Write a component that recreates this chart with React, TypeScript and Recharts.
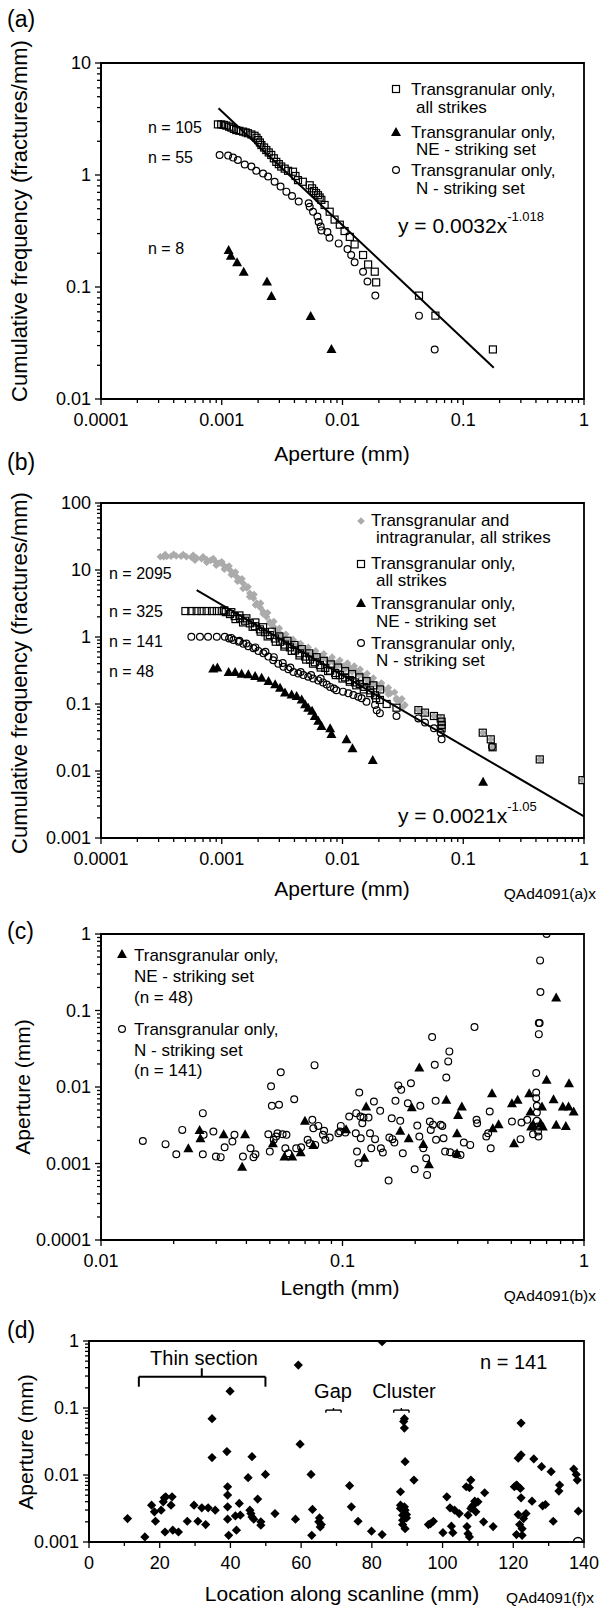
import React from 'react';
import { ScatterChart, Scatter, XAxis, YAxis, ReferenceArea, ReferenceLine } from 'recharts';

const FONT = '"Liberation Sans", Arial, Helvetica, sans-serif';

// ---------- panel (a) ----------
const aAll = [
  [0.00093, 2.83], [0.00099, 2.83], [0.00104, 2.8], [0.00109, 2.76], [0.00115, 2.7], [0.0012, 2.65],
  [0.00126, 2.58], [0.00132, 2.52], [0.0014, 2.48], [0.0015, 2.44], [0.00158, 2.4], [0.00165, 2.36],
  [0.00176, 2.3], [0.00187, 2.24], [0.00194, 2.15], [0.002, 2.05], [0.00207, 1.95], [0.00213, 1.85],
  [0.00224, 1.76], [0.00234, 1.67], [0.00245, 1.59], [0.00257, 1.51], [0.0027, 1.41], [0.00283, 1.31],
  [0.00297, 1.25], [0.00311, 1.19], [0.00332, 1.14], [0.00354, 1.09], [0.00389, 1.07], [0.00408, 0.98],
  [0.00428, 0.9], [0.0047, 0.87], [0.00535, 0.81], [0.0056, 0.76], [0.0058, 0.72], [0.00604, 0.69],
  [0.00627, 0.66], [0.00647, 0.63], [0.00668, 0.6], [0.00711, 0.54], [0.00783, 0.47], [0.0086, 0.4],
  [0.0095, 0.36], [0.0104, 0.316], [0.0115, 0.28], [0.0126, 0.24], [0.0148, 0.193], [0.0163, 0.159],
  [0.0185, 0.137], [0.019, 0.11], [0.043, 0.0838], [0.0588, 0.0555], [0.176, 0.0277],
];
const aNE = [
  [0.00114, 0.214], [0.00119, 0.19], [0.00134, 0.166], [0.00152, 0.137],
  [0.00237, 0.112], [0.00258, 0.083], [0.00545, 0.055], [0.0081, 0.0279],
];
const aN = [
  [0.00096, 1.51], [0.00113, 1.49], [0.00124, 1.43], [0.00136, 1.36], [0.00155, 1.24], [0.00176, 1.19],
  [0.00193, 1.09], [0.0022, 1.03], [0.00242, 0.97], [0.00274, 0.87], [0.00307, 0.79], [0.00343, 0.71],
  [0.00382, 0.65], [0.00434, 0.58], [0.00525, 0.56], [0.00535, 0.52], [0.0057, 0.47], [0.0062, 0.425],
  [0.00635, 0.38], [0.0066, 0.346], [0.0067, 0.32], [0.0075, 0.31], [0.0078, 0.275], [0.0093, 0.245],
  [0.011, 0.218], [0.0118, 0.193], [0.0126, 0.166], [0.0148, 0.137], [0.0161, 0.112], [0.0187, 0.0838],
  [0.043, 0.0555], [0.058, 0.0277],
];
const aFit = [[0.00094, 3.94], [0.179, 0.019]];

// ---------- panel (b) ----------
const bAllGray = [
  [0.00031, 15.8], [0.00033, 15.8], [0.00035, 15.9], [0.00038, 16.0], [0.00042, 16.2], [0.00046, 16.0],
  [0.00051, 15.8], [0.00056, 15.5], [0.00062, 15.1], [0.00068, 14.7], [0.00075, 14.3], [0.00081, 13.9],
  [0.00088, 13.5], [0.00095, 12.7], [0.00103, 11.9], [0.0011, 11.0], [0.00117, 10.0], [0.00125, 8.9],
  [0.00133, 7.9], [0.00142, 7.0], [0.00151, 6.3], [0.00161, 5.4], [0.00171, 4.5], [0.00183, 3.8],
  [0.00195, 3.2], [0.00208, 2.75], [0.00221, 2.39], [0.00235, 2.0], [0.0025, 1.69], [0.00267, 1.45],
  [0.00285, 1.27], [0.00304, 1.12], [0.00324, 1.01], [0.00345, 0.92], [0.00367, 0.85], [0.00392, 0.78],
  [0.00417, 0.72], [0.00445, 0.68], [0.00474, 0.64], [0.00505, 0.6], [0.00538, 0.57], [0.0057, 0.54],
  [0.0061, 0.51], [0.0065, 0.495], [0.0069, 0.48], [0.0074, 0.46], [0.0079, 0.44], [0.0084, 0.42],
  [0.0089, 0.4], [0.0095, 0.385], [0.0102, 0.37], [0.0108, 0.36], [0.0115, 0.35], [0.0123, 0.33],
  [0.0131, 0.31], [0.014, 0.285], [0.015, 0.26], [0.016, 0.24], [0.017, 0.22], [0.018, 0.203],
  [0.0195, 0.19], [0.021, 0.175], [0.0232, 0.162], [0.025, 0.145], [0.028, 0.122], [0.03, 0.11],
  [0.0329, 0.097],
  // upper edge of the grey band
  [0.00034, 17.0], [0.0004, 17.2], [0.00048, 17.0], [0.00058, 16.6], [0.0007, 15.8], [0.00085, 14.8],
  [0.001, 13.3], [0.00115, 11.5], [0.0013, 9.3], [0.00147, 7.4], [0.00165, 5.6], [0.00185, 4.3],
  [0.0021, 3.2], [0.0024, 2.3], [0.0027, 1.7], [0.003, 1.35], [0.0034, 1.1], [0.0039, 0.92],
  [0.0045, 0.8], [0.0052, 0.7], [0.006, 0.62], [0.007, 0.56], [0.0082, 0.5], [0.0095, 0.45],
  [0.011, 0.41], [0.0125, 0.37], [0.014, 0.33], [0.016, 0.285], [0.018, 0.245], [0.021, 0.205],
  [0.024, 0.175], [0.027, 0.15], [0.031, 0.12],
  // lower edge of the grey band
  [0.0006, 14.0], [0.00075, 13.0], [0.0009, 11.8], [0.00105, 10.3], [0.0012, 8.5], [0.00135, 6.8],
  [0.0015, 5.3], [0.0017, 4.0], [0.0019, 3.0], [0.0022, 2.2], [0.0025, 1.6], [0.0029, 1.2],
  [0.0033, 0.95], [0.0038, 0.8], [0.0044, 0.68], [0.005, 0.6], [0.0058, 0.53], [0.0067, 0.47],
  [0.0078, 0.42], [0.009, 0.37], [0.0105, 0.33], [0.012, 0.3], [0.0138, 0.27], [0.0158, 0.235],
  [0.018, 0.2], [0.0205, 0.17], [0.024, 0.14], [0.028, 0.115], [0.032, 0.092],
  // grey points under the large-aperture squares
  [0.0425, 0.081], [0.0482, 0.0743], [0.0572, 0.0662], [0.065, 0.061], [0.0662, 0.0545],
  [0.0662, 0.0486], [0.0662, 0.0434], [0.145, 0.0373], [0.169, 0.0297], [0.175, 0.0226], [0.43, 0.0149],
  [0.97, 0.0073],
];
const bAll = [
  [0.0005, 2.44], [0.00056, 2.44], [0.00062, 2.44], [0.00068, 2.44], [0.00075, 2.44], [0.00083, 2.44],
  [0.00091, 2.44], [0.001, 2.44], [0.00108, 2.35], [0.00117, 2.2], [0.00128, 2.05], [0.00142, 1.9],
  [0.00156, 1.75], [0.00171, 1.6], [0.00188, 1.45], [0.00207, 1.3], [0.00228, 1.18], [0.0025, 1.07],
  [0.00276, 0.95], [0.00304, 0.85], [0.00334, 0.77], [0.00367, 0.7], [0.00404, 0.63], [0.00444, 0.57],
  [0.0049, 0.51], [0.00538, 0.46], [0.0059, 0.42], [0.0065, 0.38], [0.0072, 0.345], [0.0079, 0.315],
  [0.0087, 0.29], [0.0095, 0.27], [0.0105, 0.25], [0.0115, 0.228], [0.0127, 0.21], [0.0139, 0.199],
  [0.0152, 0.18], [0.0169, 0.16], [0.0186, 0.135], [0.0204, 0.115], [0.0232, 0.1], [0.028, 0.088],
  // upper and lower edges of the square band
  [0.00105, 2.5], [0.0012, 2.35], [0.0014, 2.1], [0.0016, 1.9], [0.0019, 1.65], [0.0022, 1.4],
  [0.0026, 1.2], [0.003, 1.02], [0.0035, 0.88], [0.004, 0.76], [0.0046, 0.66], [0.0053, 0.57],
  [0.0061, 0.5], [0.007, 0.44], [0.008, 0.39], [0.0092, 0.35], [0.0105, 0.31], [0.012, 0.28],
  [0.0138, 0.25], [0.0158, 0.22], [0.018, 0.19], [0.0205, 0.165],
  [0.0013, 1.85], [0.0015, 1.65], [0.0018, 1.42], [0.0021, 1.2], [0.0024, 1.02], [0.0028, 0.85],
  [0.0033, 0.72], [0.0038, 0.62], [0.0044, 0.53], [0.005, 0.46], [0.0057, 0.4], [0.0066, 0.35],
  [0.0076, 0.31], [0.0088, 0.27], [0.01, 0.24], [0.0115, 0.215], [0.013, 0.19], [0.015, 0.165],
  [0.017, 0.145], [0.019, 0.122],
  [0.0425, 0.081], [0.0482, 0.0743], [0.0572, 0.0662], [0.065, 0.061], [0.0662, 0.0545], [0.0662, 0.0486],
  [0.0662, 0.0434], [0.145, 0.0373], [0.169, 0.0297], [0.175, 0.0226], [0.43, 0.0149], [0.97, 0.0073],
];
const bNE = [
  [0.00085, 0.34], [0.00092, 0.35], [0.00114, 0.3], [0.00129, 0.3], [0.00146, 0.284], [0.00166, 0.277],
  [0.00189, 0.262], [0.00214, 0.247], [0.00244, 0.22], [0.00277, 0.197], [0.00304, 0.175], [0.00334, 0.148],
  [0.00379, 0.139], [0.00417, 0.132], [0.00459, 0.117], [0.0049, 0.099], [0.0052, 0.088], [0.0056, 0.079],
  [0.0059, 0.066], [0.0063, 0.056], [0.0067, 0.047], [0.0079, 0.0434], [0.0081, 0.0357], [0.0108, 0.0297],
  [0.0121, 0.0218], [0.0178, 0.0146], [0.146, 0.0069],
];
const bN = [
  [0.00056, 1.01], [0.00066, 1.01], [0.00077, 1.01], [0.00091, 1.01], [0.00106, 1.01], [0.00115, 0.95],
  [0.00125, 0.9], [0.00138, 0.85], [0.00151, 0.79], [0.00166, 0.73], [0.00183, 0.68], [0.00201, 0.62],
  [0.00221, 0.57], [0.00243, 0.51], [0.00267, 0.45], [0.00294, 0.4], [0.00324, 0.36], [0.00356, 0.33],
  [0.00392, 0.3], [0.0043, 0.285], [0.00474, 0.27], [0.0052, 0.255], [0.0057, 0.24], [0.0063, 0.225],
  [0.0069, 0.21], [0.0074, 0.195], [0.0079, 0.18], [0.0085, 0.17], [0.0089, 0.16], [0.0101, 0.153],
  [0.0112, 0.145], [0.0123, 0.136], [0.0135, 0.128], [0.0144, 0.122], [0.0158, 0.108], [0.0186, 0.097],
  [0.0192, 0.081], [0.0204, 0.073], [0.028, 0.066], [0.0425, 0.061], [0.0482, 0.053], [0.0572, 0.0434],
  [0.065, 0.0373], [0.0662, 0.0297], [0.173, 0.023],
  [0.0012, 0.97], [0.0014, 0.88], [0.0016, 0.8], [0.0019, 0.7], [0.0023, 0.6], [0.0027, 0.5],
  [0.0032, 0.41], [0.0037, 0.35], [0.0045, 0.3], [0.0055, 0.27], [0.0066, 0.24],
];
const bFit = [[0.00062, 5.0], [1, 0.0021]];

// ---------- panel (c) ----------
const cNE = [
  [0.023, 0.00158], [0.0256, 0.00275], [0.0258, 0.00214], [0.0322, 0.00241], [0.0384, 0.00091],
  [0.0395, 0.00241], [0.0515, 0.00184], [0.0575, 0.00123], [0.0619, 0.00123], [0.0671, 0.0014],
  [0.0699, 0.00361], [0.0757, 0.00175], [0.1035, 0.00281], [0.1231, 0.00119], [0.1253, 0.00556],
  [0.1734, 0.00267], [0.188, 0.00214], [0.1936, 0.00545], [0.208, 0.018], [0.216, 0.0018],
  [0.228, 0.00098], [0.269, 0.00679], [0.298, 0.00249], [0.301, 0.00432], [0.312, 0.00556],
  [0.298, 0.00136], [0.416, 0.0083], [0.419, 0.00289], [0.443, 0.00326], [0.513, 0.00184],
  [0.503, 0.00614], [0.531, 0.00679], [0.593, 0.0083], [0.6, 0.00478], [0.615, 0.00326],
  [0.662, 0.00336], [0.67, 0.00556], [0.7, 0.0124], [0.748, 0.00693], [0.767, 0.148],
  [0.767, 0.0032], [0.817, 0.00556], [0.841, 0.0031], [0.867, 0.0112], [0.863, 0.00556],
  [0.906, 0.00478], [0.604, 0.00304], [0.675, 0.00304],
];
const cN = [
  [0.0149, 0.00197], [0.0185, 0.00179], [0.0205, 0.00132], [0.0217, 0.00275], [0.0264, 0.00455],
  [0.0266, 0.00237], [0.0264, 0.00132], [0.0292, 0.00262], [0.0299, 0.00123], [0.0313, 0.00121],
  [0.0325, 0.00163], [0.035, 0.00194], [0.0357, 0.00237], [0.0387, 0.00123], [0.0416, 0.00158],
  [0.0428, 0.00121], [0.0436, 0.00132], [0.0493, 0.00241], [0.05, 0.00143], [0.0506, 0.0102],
  [0.051, 0.00567], [0.0519, 0.00204], [0.0531, 0.00225], [0.0538, 0.00249], [0.0546, 0.00585],
  [0.0555, 0.0156], [0.0565, 0.00241], [0.058, 0.00158], [0.0586, 0.00237], [0.0597, 0.00136],
  [0.0631, 0.00693], [0.0643, 0.00158], [0.0674, 0.00163], [0.0717, 0.00204], [0.0731, 0.00184],
  [0.075, 0.00372], [0.0757, 0.00289], [0.0766, 0.0193], [0.0771, 0.00175], [0.0794, 0.0031],
  [0.083, 0.00237], [0.0839, 0.00267], [0.0849, 0.00204], [0.0885, 0.00218], [0.0962, 0.00249],
  [0.0977, 0.00262], [0.0984, 0.0031], [0.1028, 0.00254], [0.1066, 0.00411], [0.1135, 0.00249],
  [0.114, 0.00455], [0.1148, 0.00143], [0.1165, 0.00101], [0.1173, 0.00848], [0.1186, 0.00411],
  [0.119, 0.00214], [0.1208, 0.00336], [0.1222, 0.00399], [0.1282, 0.00399], [0.13, 0.00249],
  [0.1315, 0.00158], [0.1349, 0.00646], [0.1364, 0.00208], [0.1432, 0.00488], [0.1442, 0.00158],
  [0.1469, 0.00139], [0.1552, 0.0006], [0.1563, 0.00218], [0.1599, 0.00391], [0.161, 0.00208],
  [0.164, 0.00188], [0.1657, 0.00659], [0.1702, 0.0105], [0.1734, 0.00361], [0.175, 0.00918],
  [0.1777, 0.00136], [0.1865, 0.00614], [0.192, 0.0112], [0.199, 0.00084], [0.204, 0.00313],
  [0.208, 0.00225], [0.21, 0.00567], [0.216, 0.00158], [0.222, 0.00117], [0.224, 0.00071],
  [0.23, 0.00354], [0.232, 0.00275], [0.235, 0.0449], [0.237, 0.0032], [0.241, 0.0195],
  [0.243, 0.00659], [0.244, 0.00204], [0.255, 0.0032], [0.259, 0.0031], [0.262, 0.00214],
  [0.266, 0.00143], [0.269, 0.0133], [0.274, 0.0216], [0.277, 0.0292], [0.279, 0.0014],
  [0.295, 0.00132], [0.308, 0.00129], [0.318, 0.00188], [0.338, 0.00175], [0.352, 0.0607],
  [0.359, 0.00372], [0.361, 0.00336], [0.394, 0.00225], [0.401, 0.00249], [0.407, 0.00478],
  [0.411, 0.00158], [0.503, 0.00354], [0.546, 0.00208], [0.551, 0.00343], [0.582, 0.00372],
  [0.615, 0.00241], [0.634, 0.0152], [0.634, 0.00848], [0.634, 0.00714], [0.638, 0.00567],
  [0.638, 0.00464], [0.638, 0.00361], [0.643, 0.00304], [0.645, 0.00262], [0.648, 0.00225],
  [0.65, 0.0685], [0.655, 0.0685], [0.65, 0.0491], [0.66, 0.174], [0.658, 0.452], [0.7, 1.0],
];

// ---------- panel (d) ----------
const dN = [
  [10.9, 0.00224], [15.8, 0.00119], [17.7, 0.00355], [18.5, 0.00282], [18.8, 0.00204], [20.4, 0.00299],
  [21.0, 0.00398], [21.3, 0.00457], [21.5, 0.00141], [21.7, 0.00473], [23.2, 0.00355], [23.5, 0.00473],
  [23.7, 0.0015], [25.3, 0.00141], [27.8, 0.00204], [29.7, 0.00355], [30.8, 0.00204], [31.9, 0.00324],
  [33.0, 0.00182], [33.7, 0.00324], [34.8, 0.0692], [34.8, 0.0182], [35.7, 0.00299], [39.0, 0.0224],
  [39.2, 0.00668], [39.2, 0.00501], [39.2, 0.00335], [39.2, 0.00219], [39.5, 0.00126], [39.9, 0.178],
  [41.4, 0.00245], [41.7, 0.0015], [42.5, 0.00376], [42.8, 0.00251], [45.0, 0.00912], [45.5, 0.00299],
  [45.8, 0.00266], [46.1, 0.0188], [46.1, 0.00237], [46.6, 0.00219], [47.7, 0.00437], [48.6, 0.002],
  [48.6, 0.00178], [49.9, 0.0102], [52.6, 0.00266], [58.4, 0.00219], [59.2, 0.437], [59.7, 0.0288],
  [62.8, 0.0102], [63.0, 0.00126], [63.2, 0.00306], [65.0, 0.002], [65.2, 0.00229], [65.4, 0.00168],
  [65.7, 0.00182], [73.7, 0.00692], [74.2, 0.00335], [76.1, 0.00204], [79.9, 0.00145], [82.9, 0.00129],
  [82.9, 0.977], [88.1, 0.00562], [88.1, 0.00355], [88.1, 0.00316], [88.7, 0.00251], [88.7, 0.00211],
  [88.7, 0.00182], [89.0, 0.0631], [89.2, 0.0692], [89.2, 0.0501], [89.4, 0.0158], [89.2, 0.00335],
  [89.4, 0.00299], [89.4, 0.00158], [89.8, 0.00257], [89.8, 0.00229], [91.9, 0.00841], [96.0, 0.00182],
  [96.6, 0.00188], [97.4, 0.00204], [100.1, 0.00138], [101.2, 0.00473], [102.1, 0.00324], [102.5, 0.00172],
  [102.9, 0.00138], [103.4, 0.00299], [104.7, 0.00266], [106.7, 0.00668], [106.9, 0.0017], [107.2, 0.00133],
  [107.2, 0.00251], [107.6, 0.00119], [107.6, 0.00646], [108.0, 0.00841], [108.0, 0.00316], [108.3, 0.00335],
  [108.7, 0.00355], [109.1, 0.00407], [109.4, 0.00282], [110.0, 0.00398], [111.6, 0.002], [111.9, 0.00543],
  [114.3, 0.0017], [120.9, 0.00129], [121.1, 0.00692], [121.4, 0.0178], [121.4, 0.00257], [121.8, 0.00182],
  [122.0, 0.00631], [122.2, 0.02], [122.2, 0.0596], [122.2, 0.00457], [122.5, 0.00126], [122.5, 0.00158],
  [122.9, 0.00224], [123.6, 0.00266], [125.3, 0.00407], [125.8, 0.0174], [128.0, 0.0133], [128.3, 0.00347],
  [129.1, 0.00363], [130.7, 0.0112], [131.3, 0.00204], [132.9, 0.00575], [133.1, 0.00708], [137.1, 0.0123],
  [137.8, 0.0102], [138.1, 0.00841], [138.4, 0.00288], [120.9, 0.00708], [120.3, 0.00668],
];
const dOpen = [[138.3, 0.001]];
// bracket and braces in panel (d), in data units
const thinSection = { x1: 14.1, x2: 49.9, xm: 31.9, y: 0.293, yEnd: 0.208, yTop: 0.392 };
const gapBrace = { x1: 67.0, x2: 71.3, xm: 69.15, y: 0.093, yEnd: 0.085, yTop: 0.1 };
const clusterBrace = { x1: 86.2, x2: 90.5, xm: 88.35, y: 0.093, yEnd: 0.085, yTop: 0.1 };

// axis ticks
const decA = [0.0001, 0.001, 0.01, 0.1, 1];
const decAy = [0.01, 0.1, 1, 10];
const decBy = [0.001, 0.01, 0.1, 1, 10, 100];
const decCx = [0.01, 0.1, 1];
const decCy = [0.0001, 0.001, 0.01, 0.1, 1];
const decDy = [0.001, 0.01, 0.1, 1];
const dMajor = [0, 20, 40, 60, 80, 100, 120, 140];
const dAll = [0, 10, 20, 30, 40, 50, 60, 70, 80, 90, 100, 110, 120, 130, 140];

const pts = (a: number[][]) => a.map(([x, y]) => ({ x, y }));
const withMinor = (majors: number[]) => {
  const out = [...majors];
  for (let i = 0; i < majors.length - 1; i++) for (let k = 2; k <= 9; k++) out.push(majors[i] * k);
  return out.sort((p, q) => p - q);
};

const XTick = ({ x, y, payload, majors }: any) => {
  const major = majors.includes(payload.value);
  return (
    <g>
      <line x1={x} x2={x} y1={y} y2={y + (major ? 6 : 4)} stroke="#000" strokeWidth={1.3} />
      {major && (
        <text x={x} y={y + 27} textAnchor="middle" fontSize={18} fontFamily={FONT} fill="#000">
          {String(payload.value)}
        </text>
      )}
    </g>
  );
};

const YTick = ({ x, y, payload, majors }: any) => {
  const major = majors.includes(payload.value);
  return (
    <g>
      <line x1={x} x2={x - (major ? 6 : 4)} y1={y} y2={y} stroke="#000" strokeWidth={1.3} />
      {major && (
        <text x={x - 10} y={y} dy="0.35em" textAnchor="end" fontSize={18} fontFamily={FONT} fill="#000">
          {String(payload.value)}
        </text>
      )}
    </g>
  );
};

// marker shapes
const Square = ({ cx, cy, fill = 'none' }: any) => (
  <rect x={cx - 3.5} y={cy - 3.5} width={7} height={7} fill={fill} stroke="#000" strokeWidth={1.2} />
);
const Tri = ({ cx, cy }: any) => (
  <polygon points={`${cx},${cy - 5} ${cx - 5},${cy + 4} ${cx + 5},${cy + 4}`} fill="#000" />
);
const Circ = ({ cx, cy }: any) => <circle cx={cx} cy={cy} r={3.4} fill="none" stroke="#000" strokeWidth={1.2} />;
const Diamond = ({ cx, cy, r = 4.6, fill = '#000' }: any) => (
  <polygon points={`${cx},${cy - r} ${cx + r},${cy} ${cx},${cy + r} ${cx - r},${cy}`} fill={fill} />
);
const GrayDiamond = (p: any) => <Diamond {...p} r={3.8} fill="#ababab" />;
const BigCirc = ({ cx, cy }: any) => <circle cx={cx} cy={cy} r={4.5} fill="none" stroke="#000" strokeWidth={1.4} />;
const NoShape = () => <g />;

const axisLine = { stroke: '#000', strokeWidth: 1.8 };

function logX(domain: number[], majors: number[]) {
  return (
    <XAxis
      type="number"
      dataKey="x"
      scale="log"
      domain={domain}
      allowDataOverflow
      ticks={withMinor(majors)}
      interval={0}
      tickSize={0}
      tickMargin={0}
      height={40}
      axisLine={axisLine}
      tickLine={false}
      tick={<XTick majors={majors} />}
    />
  );
}
function logY(domain: number[], majors: number[]) {
  return (
    <YAxis
      type="number"
      dataKey="y"
      scale="log"
      domain={domain}
      allowDataOverflow
      ticks={withMinor(majors)}
      interval={0}
      tickSize={0}
      tickMargin={0}
      width={60}
      axisLine={axisLine}
      tickLine={false}
      tick={<YTick majors={majors} />}
    />
  );
}

const Txt = ({ x, y, size = 17, anchor = 'start', children, rotate }: any) => (
  <text
    x={x}
    y={y}
    fontSize={size}
    fontFamily={FONT}
    textAnchor={anchor}
    dominantBaseline="central"
    fill="#000"
    transform={rotate ? `rotate(-90 ${x} ${y})` : undefined}
  >
    {children}
  </text>
);

const Bracket = ({ b, w }: any) => (
  <>
    <ReferenceLine segment={[{ x: b.x1, y: b.y }, { x: b.x2, y: b.y }]} stroke="#000" strokeWidth={w} ifOverflow="visible" />
    <ReferenceLine segment={[{ x: b.x1, y: b.y }, { x: b.x1, y: b.yEnd }]} stroke="#000" strokeWidth={w} ifOverflow="visible" />
    <ReferenceLine segment={[{ x: b.x2, y: b.y }, { x: b.x2, y: b.yEnd }]} stroke="#000" strokeWidth={w} ifOverflow="visible" />
    <ReferenceLine segment={[{ x: b.xm, y: b.y }, { x: b.xm, y: b.yTop }]} stroke="#000" strokeWidth={w} ifOverflow="visible" />
  </>
);

export default function App() {
  return (
    <div style={{ position: 'absolute', left: 0, top: 0, width: 603, height: 1606, background: '#fff' }}>
      {/* (a) */}
      <div style={{ position: 'absolute', left: 0, top: 0 }}>
        <ScatterChart width={603} height={470} margin={{ top: 63, right: 19, bottom: 31, left: 41 }}>
          {logX([0.0001, 1], decA)}
          {logY([0.01, 10], decAy)}
          <ReferenceArea x1={0.0001} x2={1} y1={0.01} y2={10} fill="none" stroke="#000" strokeWidth={1.8} ifOverflow="visible" />
          <Scatter data={pts(aFit)} line={{ stroke: '#000', strokeWidth: 2 }} shape={NoShape} isAnimationActive={false} />
          <Scatter data={pts(aAll)} shape={Square} isAnimationActive={false} />
          <Scatter data={pts(aN)} shape={Circ} isAnimationActive={false} />
          <Scatter data={pts(aNE)} shape={Tri} isAnimationActive={false} />
        </ScatterChart>
      </div>

      {/* (b) */}
      <div style={{ position: 'absolute', left: 0, top: 470 }}>
        <ScatterChart width={603} height={440} margin={{ top: 33, right: 19, bottom: 32, left: 41 }}>
          {logX([0.0001, 1], decA)}
          {logY([0.001, 100], decBy)}
          <ReferenceArea x1={0.0001} x2={1} y1={0.001} y2={100} fill="none" stroke="#000" strokeWidth={1.8} ifOverflow="visible" />
          <Scatter data={pts(bAllGray)} shape={GrayDiamond} isAnimationActive={false} />
          <Scatter data={pts(bFit)} line={{ stroke: '#000', strokeWidth: 2 }} shape={NoShape} isAnimationActive={false} />
          <Scatter data={pts(bAll)} shape={Square} isAnimationActive={false} />
          <Scatter data={pts(bN)} shape={Circ} isAnimationActive={false} />
          <Scatter data={pts(bNE)} shape={Tri} isAnimationActive={false} />
        </ScatterChart>
      </div>

      {/* (c) */}
      <div style={{ position: 'absolute', left: 0, top: 910 }}>
        <ScatterChart width={603} height={390} margin={{ top: 24, right: 19, bottom: 20, left: 41 }}>
          {logX([0.01, 1], decCx)}
          {logY([0.0001, 1], decCy)}
          <ReferenceArea x1={0.01} x2={1} y1={0.0001} y2={1} fill="none" stroke="#000" strokeWidth={1.8} ifOverflow="visible" />
          <Scatter data={pts(cN)} shape={Circ} isAnimationActive={false} />
          <Scatter data={pts(cNE)} shape={Tri} isAnimationActive={false} />
        </ScatterChart>
      </div>

      {/* (d) */}
      <div style={{ position: 'absolute', left: 0, top: 1300 }}>
        <ScatterChart width={603} height={306} margin={{ top: 41, right: 19, bottom: 24, left: 29 }}>
          <XAxis
            type="number"
            dataKey="x"
            domain={[0, 140]}
            ticks={dAll}
            interval={0}
            tickSize={0}
            tickMargin={0}
            height={40}
            axisLine={axisLine}
            tickLine={false}
            tick={<XTick majors={dMajor} />}
          />
          {logY([0.001, 1], decDy)}
          <ReferenceArea x1={0} x2={140} y1={0.001} y2={1} fill="none" stroke="#000" strokeWidth={1.8} ifOverflow="visible" />
          {Bracket({ b: thinSection, w: 2 })}
          {Bracket({ b: gapBrace, w: 1.4 })}
          {Bracket({ b: clusterBrace, w: 1.4 })}
          <Scatter data={pts(dN)} shape={Diamond} isAnimationActive={false} />
          <Scatter data={pts(dOpen)} shape={BigCirc} isAnimationActive={false} />
        </ScatterChart>
      </div>

      {/* text overlay */}
      <svg width={603} height={1606} style={{ position: 'absolute', left: 0, top: 0, pointerEvents: 'none' }}>
        <Txt x={7} y={19} size={23}>(a)</Txt>
        <Txt x={7} y={462} size={23}>(b)</Txt>
        <Txt x={7} y={931} size={23}>(c)</Txt>
        <Txt x={7} y={1330} size={23}>(d)</Txt>

        <Txt x={19} y={221} size={22} anchor="middle" rotate>Cumulative frequency (fractures/mm)</Txt>
        <Txt x={19} y={673} size={22} anchor="middle" rotate>Cumulative frequency (fractures/mm)</Txt>
        <Txt x={22} y={1087} size={21} anchor="middle" rotate>Aperture (mm)</Txt>
        <Txt x={25} y={1442} size={21} anchor="middle" rotate>Aperture (mm)</Txt>

        <Txt x={342} y={453} size={21} anchor="middle">Aperture (mm)</Txt>
        <Txt x={342} y={888} size={21} anchor="middle">Aperture (mm)</Txt>
        <Txt x={340} y={1287} size={21} anchor="middle">Length (mm)</Txt>
        <Txt x={342} y={1593} size={21} anchor="middle">Location along scanline (mm)</Txt>

        <Txt x={596} y={893} size={15.5} anchor="end">QAd4091(a)x</Txt>
        <Txt x={596} y={1295} size={15.5} anchor="end">QAd4091(b)x</Txt>
        <Txt x={594} y={1597} size={15.5} anchor="end">QAd4091(f)x</Txt>

        {/* (a) legend and notes */}
        <Square cx={396} cy={89} fill="#fff" />
        <Txt x={411} y={89}>Transgranular only,</Txt>
        <Txt x={416} y={107}>all strikes</Txt>
        <Tri cx={396} cy={132} />
        <Txt x={411} y={132}>Transgranular only,</Txt>
        <Txt x={416} y={149}>NE - striking set</Txt>
        <Circ cx={396} cy={170} />
        <Txt x={411} y={170}>Transgranular only,</Txt>
        <Txt x={416} y={188}>N - striking set</Txt>
        <text x={398} y={225} dominantBaseline="central" fontSize={21} fontFamily={FONT} fill="#000">
          y = 0.0032x<tspan fontSize={13} dy={-9}>-1.018</tspan>
        </text>
        <Txt x={148} y={127} size={16}>n = 105</Txt>
        <Txt x={148} y={157} size={16}>n = 55</Txt>
        <Txt x={148} y={248} size={16}>n = 8</Txt>

        {/* (b) legend and notes */}
        <GrayDiamond cx={361} cy={521} />
        <Txt x={371} y={520}>Transgranular and</Txt>
        <Txt x={376} y={537}>intragranular, all strikes</Txt>
        <Square cx={361} cy={564} fill="#fff" />
        <Txt x={371} y={563}>Transgranular only,</Txt>
        <Txt x={376} y={580}>all strikes</Txt>
        <Tri cx={361} cy={603} />
        <Txt x={371} y={603}>Transgranular only,</Txt>
        <Txt x={376} y={621}>NE - striking set</Txt>
        <Circ cx={361} cy={643} />
        <Txt x={371} y={643}>Transgranular only,</Txt>
        <Txt x={376} y={660}>N - striking set</Txt>
        <text x={398} y={815} dominantBaseline="central" fontSize={21} fontFamily={FONT} fill="#000">
          y = 0.0021x<tspan fontSize={13} dy={-9}>-1.05</tspan>
        </text>
        <Txt x={109} y={573} size={16}>n = 2095</Txt>
        <Txt x={109} y={611} size={16}>n = 325</Txt>
        <Txt x={109} y={641} size={16}>n = 141</Txt>
        <Txt x={109} y={671} size={16}>n = 48</Txt>

        {/* (c) legend */}
        <Tri cx={122} cy={954} />
        <Txt x={134} y={955}>Transgranular only,</Txt>
        <Txt x={134} y={976}>NE - striking set</Txt>
        <Txt x={134} y={997}>(n = 48)</Txt>
        <Circ cx={122} cy={1029} />
        <Txt x={134} y={1029}>Transgranular only,</Txt>
        <Txt x={134} y={1050}>N - striking set</Txt>
        <Txt x={134} y={1070}>(n = 141)</Txt>

        {/* (d) notes */}
        <Txt x={204} y={1358} size={20} anchor="middle">Thin section</Txt>
        <Txt x={480} y={1362} size={20}>n = 141</Txt>
        <Txt x={333} y={1391} size={20} anchor="middle">Gap</Txt>
        <Txt x={404} y={1391} size={20} anchor="middle">Cluster</Txt>
      </svg>
    </div>
  );
}
